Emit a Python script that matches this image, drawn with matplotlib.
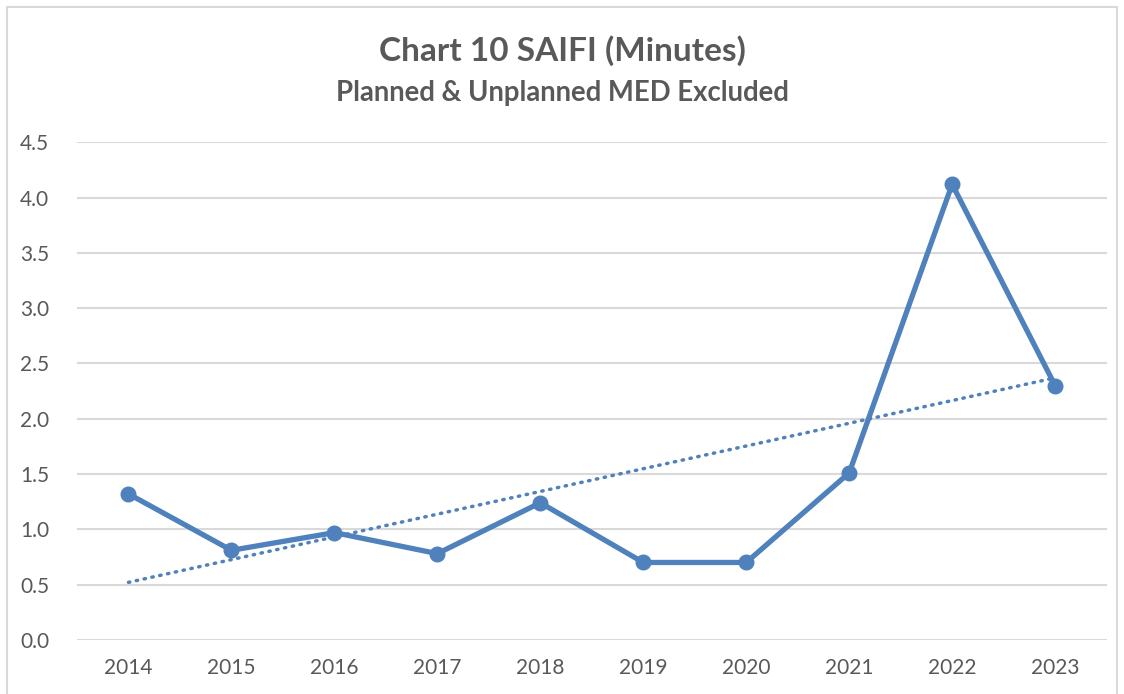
import numpy as np
import matplotlib.pyplot as plt
from matplotlib.patches import Rectangle

years = ['2014', '2015', '2016', '2017', '2018', '2019', '2020', '2021', '2022', '2023']
saifi = [1.32, 0.81, 0.97, 0.78, 1.24, 0.70, 0.70, 1.51, 4.12, 2.30]
yticks = [0.0, 0.5, 1.0, 1.5, 2.0, 2.5, 3.0, 3.5, 4.0, 4.5]

blue = '#4F81BD'
grey = '#595959'
plt.rcParams['font.family'] = ['Lato', 'DejaVu Sans']

fig = plt.figure(figsize=(11.24, 6.94), dpi=100)
ax = fig.add_axes([0.0685, 0.078, 0.916, 0.717])

x = np.arange(len(years))
ax.plot(x, saifi, color=blue, linewidth=3.8, marker='o', markersize=10.5, zorder=3)

# linear trendline
k, b = np.polyfit(x, saifi, 1)
ax.plot(x, k * x + b, color=blue, linewidth=2.5, linestyle=(0, (0.4, 1.9)),
        dash_capstyle='round', zorder=2)

ax.set_xlim(-0.5, len(years) - 0.5)
ax.set_ylim(0, 4.5)
ax.set_yticks(yticks)
ax.set_yticklabels([f'{v:.1f}' for v in yticks])
ax.set_xticks(x)
ax.set_xticklabels(years)
ax.grid(axis='y', color='#D9D9D9', linewidth=1.5)
ax.set_axisbelow(True)
for s in ax.spines.values():
    s.set_visible(False)
ax.tick_params(length=0, labelsize=15, colors=grey, pad=13)
ax.tick_params(axis='y', pad=20)

fig.text(0.5, 0.927, 'Chart 10 SAIFI (Minutes)', ha='center', va='center',
         fontsize=24, fontweight='bold', color=grey)
fig.text(0.5, 0.866, 'Planned & Unplanned MED Excluded', ha='center', va='center',
         fontsize=19.8, fontweight='bold', color=grey)

fig.patches.append(Rectangle((0.0065, -0.01), 0.987, 1.0, transform=fig.transFigure,
                             fill=False, edgecolor='#D9D9D9', linewidth=1.5))

fig.savefig('out.png', dpi=100)
